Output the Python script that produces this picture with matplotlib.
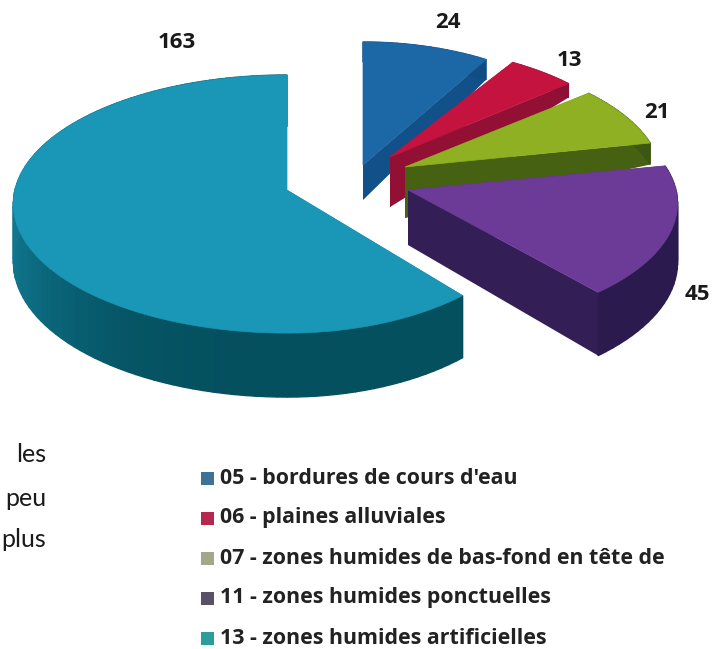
import numpy as np
import matplotlib
matplotlib.use('agg')
import matplotlib.pyplot as plt
from matplotlib.colors import to_rgb
from matplotlib.patches import Polygon, Rectangle

values = [24, 13, 21, 45, 163]
codes = ['05', '06', '07', '11', '13']
names = ["bordures de cours d'eau", 'plaines alluviales',
         'zones humides de bas-fond en tête de',
         'zones humides ponctuelles', 'zones humides artificielles']
side_words = ['les', 'peu', 'plus']

top_colors = ['#1c68a6', '#c5133f', '#8fb022', '#6c3b97', '#1a97b6']
wall_colors = ['#104d85', '#8c1034', '#3d5611', '#2b1a4d', '#04505f']
key_colors = ['#3f7396', '#b5294f', '#a3a88a', '#5a5068', '#2c9c9c']

# pie plane projection
RX, RY = 272, 127.5
PERSP = 0.109
# per slice: apex on screen, radius factors, wall height at rim and at apex
apexes = [(363, 165), (390, 157), (405, 167), (408, 190), (287, 190)]
x_scales = [0.92, 0.915, 0.94, 0.985, 1.0]
y_scales = [1.07, 0.96, 0.965, 0.97, 1.0]
right_squeeze = [1, 1, 1, 1, 0.91]
rim_heights = [22, 15, 22, 58, 57]
apex_heights = [35, 50, 51, 55, 57]
label_pos = [(448, 22), (569, 60), (657, 112), (697, 295), (177, 43)]

dpi = 100
fig = plt.figure(figsize=(7.15, 6.49), dpi=dpi)
ax = fig.add_axes([0, 0, 1, 1])
ax.set_xlim(0, 715)
ax.set_ylim(649, 0)
ax.axis('off')


def project(angle, i, drop=0):
    # angle runs clockwise from the back of the pie
    px = np.sin(angle)
    py = np.cos(angle)
    w = 1 + PERSP * py
    sx = np.where(px > 0, x_scales[i] * right_squeeze[i], x_scales[i])
    return (apexes[i][0] + sx * RX * px / w,
            apexes[i][1] - y_scales[i] * RY * py / w + drop / w)


def mix(c, other, t):
    c, other = np.array(to_rgb(c)), np.array(to_rgb(other))
    return tuple(c * (1 - t) + other * t)


edges = np.radians(np.concatenate([[0], np.cumsum(values)]) * 360 / sum(values))

for i in range(len(values)):
    a0, a1 = edges[i], edges[i + 1]
    h = rim_heights[i]
    ang = np.linspace(a0, a1, max(int(np.degrees(a1 - a0)) // 2, 8))
    apex = apexes[i]
    apex_low = (apex[0], apex[1] + apex_heights[i])

    # radial faces
    for a in (a0, a1):
        pts = [apex, project(a, i), project(a, i, h), apex_low]
        ax.add_patch(Polygon(pts, fc=mix(wall_colors[i], top_colors[i], 0.12),
                             ec='none', zorder=i * 3 + 1))

    # outer wall in narrow strips so it can shade around the rim
    for a, b in zip(ang[:-1], ang[1:]):
        t = 0.55 * max(0, -np.sin((a + b) / 2)) ** 3
        col = mix(wall_colors[i], top_colors[i], t)
        pts = [project(a, i), project(b, i),
               project(b, i, h), project(a, i, h)]
        ax.add_patch(Polygon(pts, fc=col, ec=col, lw=1.0, zorder=i * 3 + 2))

    # top face
    xs, ys = project(ang, i)
    ax.add_patch(Polygon(np.column_stack([[apex[0], *xs], [apex[1], *ys]]),
                         fc=top_colors[i], ec=top_colors[i], lw=0.5,
                         zorder=i * 3 + 3))

    ax.text(label_pos[i][0], label_pos[i][1], str(values[i]), ha='center',
            va='center', family='Open Sans', weight='bold', fontsize=16,
            color='#1a1a1a', zorder=30)

# key below the pie
row_y = [478, 518, 558, 598, 638]
for i in range(len(codes)):
    ax.add_patch(Rectangle((201, row_y[i] - 6), 13, 13, fc=key_colors[i],
                           ec='none', zorder=30))
    ax.text(220, row_y[i], codes[i] + ' - ' + names[i], ha='left', va='center',
            family='Open Sans', weight='bold', fontsize=15.4, color='#222222',
            zorder=30)

# tail of the surrounding paragraph
for word, y in zip(side_words, [462, 506, 547]):
    ax.text(46, y, word, ha='right', va='baseline', family='Lato',
            fontsize=18, color='#1a1a1a')

fig.savefig('out.png', dpi=dpi, facecolor='white')
